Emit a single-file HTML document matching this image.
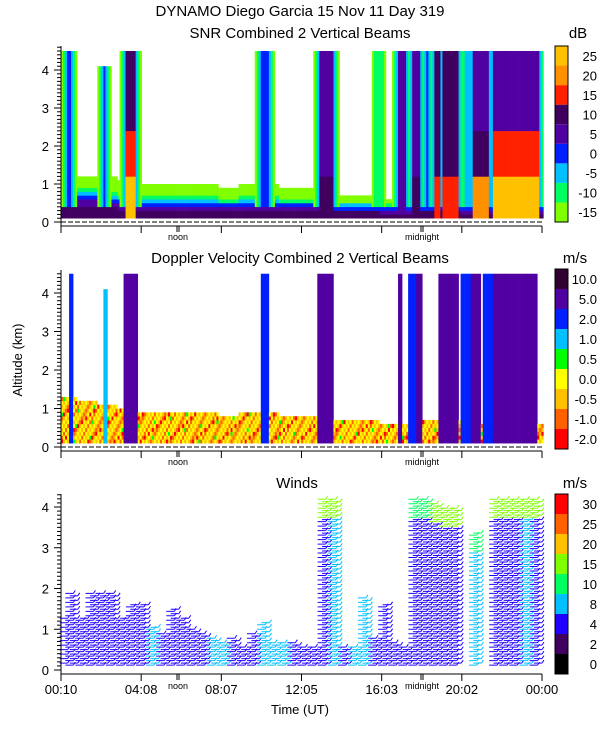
<!DOCTYPE html>
<html><head><meta charset="utf-8">
<style>
html,body{margin:0;padding:0;background:#fff;}
svg{display:block;font-family:"Liberation Sans",sans-serif;}
</style></head>
<body>
<svg id="chart" width="600" height="750" viewBox="0 0 600 750" xmlns="http://www.w3.org/2000/svg">
<text x="300" y="16" text-anchor="middle" font-size="15">DYNAMO Diego Garcia  15 Nov 11 Day 319</text>
<text x="300" y="38" text-anchor="middle" font-size="15">SNR Combined 2 Vertical Beams</text>
<text x="578" y="38" text-anchor="middle" font-size="15">dB</text>
<text x="300" y="263" text-anchor="middle" font-size="15">Doppler Velocity Combined 2 Vertical Beams</text>
<text x="575" y="263" text-anchor="middle" font-size="15">m/s</text>
<text x="297" y="488" text-anchor="middle" font-size="15">Winds</text>
<text x="575" y="488" text-anchor="middle" font-size="15">m/s</text>
<text x="22" y="360" text-anchor="middle" font-size="13" transform="rotate(-90 22 360)">Altitude (km)</text>
<text x="300" y="714" text-anchor="middle" font-size="13">Time (UT)</text>
<g id="layers"></g>
</svg>
<script>
// ---- SNR data ----
const blTop = [1.3,1.2,1.1,1.0,0.9,0.9,0.9,0.9,0.8,0.9,0.9,0.8,0.8,0.7,0.7,0.7,0.6,0.6,0.7,0.7,0.6,0.6,0.6,0.6];
const colStart = [0.5,2.25,3.35,10.1,12.95,15.85,16.85,17.55,18.25,18.65,19.1,20.25,20.6,21.55];
const colEnd   = [0.7,2.4,3.85,10.45,13.65,15.95,17.25,18.0,18.4,19.0,19.85,20.4,21.35,23.85];
const colTop   = [4.5,4.1,4.5,4.5,4.5,4.5,4.5,4.5,4.5,4.5,4.5,4.5,4.5,4.5];
const colCore  = [3,3,5,3,4,1,4,4,3,5,5,2,4,4];
const colLow   = [3,3,8,3,5,1,4,5,3,6,6,2,7,8];
// ---- Doppler data ----
const dopStart = [0.55,2.25,3.25,10.1,12.9,16.85,17.35,17.8,18.9,20.0,20.5,21.1,21.6];
const dopEnd   = [0.75,2.45,3.95,10.5,13.7,17.1,17.8,18.1,19.9,20.5,21.0,21.6,23.8];
const dopTopC  = [4.5,4.1,4.5,4.5,4.5,4.5,4.5,4.5,4.5,4.5,4.5,4.5,4.5];
const dopLevel = [6,5,7,6,7,7,6,7,7,6,7,6,7];
// ---- Winds data (half-hour bins) ----
const windTop = [1.3,1.9,1.3,1.9,1.9,1.9,1.3,1.6,1.6,1.1,0.9,1.5,1.3,1.0,0.9,0.8,0.7,0.8,0.6,0.9,1.2,0.7,0.7,0.7,0.6,0.6,4.2,4.2,0.6,0.6,1.8,0.8,1.6,0.7,0.6,4.2,4.2,4.1,4.0,4.0,0,3.4,0,4.2,4.2,4.2,4.2,4.2];
const windLow = [2,2,2,2,2,2,2,2,2,3,2,2,2,2,2,3,3,2,2,2,3,3,3,2,2,2,2,3,2,3,3,2,2,2,2,2,2,2,2,2,2,3,2,2,2,2,3,2];
const windHigh = [4,4,4,3,2,4,3,3,2,2,2,2,2,2,2,2,2,2,2,2,2,2,2,2,2,2,5,5,2,2,3,2,2,2,2,4,4,5,5,5,2,4,2,5,5,5,5,5];
const timeTicks = ["00:10","04:08","08:07","12:05","16:03","20:02","00:00"];
const snrLabels = ["-15","-10","-5","0","5","10","15","20","25"];
const dopLabels = ["-2.0","-1.0","-0.5","0.0","0.5","1.0","2.0","5.0","10.0"];
const windLabels = ["0","2","4","8","10","15","20","25","30"];
const snrColors = ["#80ff00","#00ff60","#00c0ff","#0020ff","#5000a0","#400060","#ff2000","#ff9000","#ffc000"];
const dopColors = ["#ff0000","#ff6000","#ffc000","#ffff00","#00ff00","#00c0ff","#0020ff","#5000a0","#300030"];
const windColors = ["#000000","#400060","#2000ff","#00c0ff","#00ff60","#80ff00","#ffc000","#ff6000","#ff0000"];

const NS="http://www.w3.org/2000/svg";
const L=document.getElementById('layers');
function mk(t,a,p){const e=document.createElementNS(NS,t);for(const k in a)e.setAttribute(k,a[k]);(p||L).appendChild(e);return e;}
const X0=61,X1=542,T0=10/60,T1=24;
function xs(h){return X0+(h-T0)/(T1-T0)*(X1-X0);}
const panels=[{zero:222,k:38,top:46,axis:226,lab:"snr"},{zero:447,k:38.5,top:270,axis:451,lab:"doppler"},{zero:670,k:40.75,top:494,axis:674,lab:"winds"}];
function ys(p,z){return p.zero-z*p.k;}

function snrLevel(t,z){
  let best=-1;
  for(let c=0;c<colStart.length;c++){
    if(z>=colTop[c])continue;
    if(t>=colStart[c]&&t<colEnd[c]){
      const lv=z<1.2?colLow[c]:z<2.4?Math.max(colCore[c],colLow[c]-2):colCore[c];
      best=Math.max(best,lv);
    } else {
      const d=t<colStart[c]?colStart[c]-t:t-colEnd[c];
      if(d<0.3){best=Math.max(best,Math.min(colCore[c],d<0.1?2:d<0.2?1:0));}
    }
  }
  const top=blTop[Math.min(23,Math.floor(t))];
  if(z<top){
    const f=z/top;
    const lv=f<0.3?5:f<0.42?4:f<0.52?3:f<0.6?2:f<0.68?1:0;
    if(best<0||z<0.35)best=Math.max(best,lv);
  }
  return best;
}
function dopLev(t,z){
  for(let c=0;c<dopStart.length;c++){
    if(t>=dopStart[c]&&t<dopEnd[c]&&z<dopTopC[c])return dopLevel[c];
  }
  const top=blTop[Math.min(23,Math.floor(t))]*0.95;
  if(z>=top)return -1;
  const n=Math.round(z*10)*7+Math.round(t*10)*3;
  return (n%13==0)?0:(n%31==0)?4:(n%5==0)?1:(n%2==0)?2:3;
}
function heat(fn,p,colors,name,cellName){
  const g=mk('g',{});
  
  
  const dt=0.1;
  for(let t=T0;t<T1-0.001;t+=dt){
    let runStart=null,runLv=null;
    const flush=(zEnd)=>{
      if(runLv!==null&&runLv>=0){
        const r=mk('rect',{x:xs(t),y:ys(p,zEnd),width:xs(t+dt)-xs(t)+0.3,height:(zEnd-runStart)*p.k+0.3,fill:colors[runLv]},g);
        
        
      }
    };
    for(let z=0.1;z<4.55;z+=0.1){
      const lv=fn(t+dt/2,z);
      if(lv!==runLv){flush(z);runStart=z;runLv=lv;}
    }
    flush(4.55);
  }
}
heat(snrLevel,panels[0],snrColors,'snr-heatmap','snr-cell');
heat(dopLev,panels[1],dopColors,'doppler-heatmap','doppler-cell');

// Wind barbs
const gW=mk('g',{});


for(let i=0;i<48;i++){
  const top=windTop[i];
  for(let s=0;s<2;s++){
    const t=i*0.5+0.08+s*0.22; if(t<T0)continue;
    for(let z=0.12+s*0.05;z<=top+0.001;z+=0.11){
      const lv=(top>3&&z>top-0.5)?windHigh[i]:windLow[i];
      const x=xs(t),y=ys(panels[2],z);
      const b=mk('path',{d:`M${x-4} ${y}L${x+4} ${y}M${x+4} ${y}L${x+6} ${y-3}`,stroke:windColors[lv],'stroke-width':1,fill:'none'},gW);
      
      
    }
  }
}
// axes
panels.forEach((p,pi)=>{
  const g=mk('g',{});
  
  
  mk('line',{x1:X0,y1:p.top,x2:X0,y2:p.axis,stroke:'#000'},g);
  const maxz=(p.zero-p.top)/p.k;
  for(let z=0;z<=maxz+0.001;z+=0.1){
    const major=Math.abs(z-Math.round(z))<0.01;
    mk('line',{x1:X0-(major?7:4),y1:ys(p,z),x2:X0,y2:ys(p,z),stroke:'#000'},g);
    if(major){const t=mk('text',{x:X0-12,y:ys(p,z)+5,'text-anchor':'end','font-size':13},g);t.textContent=Math.round(z);}
  }
  mk('line',{x1:X0,y1:p.axis,x2:X1,y2:p.axis,stroke:'#000'},g);
  if(pi<2)mk('line',{x1:X0,y1:p.zero,x2:X1,y2:p.zero,stroke:'#000','stroke-dasharray':'5 2'},g);
  timeTicks.forEach((lab,j)=>{
    const x=X0+j*(X1-X0)/6;
    mk('line',{x1:x,y1:p.axis,x2:x,y2:p.axis+7,stroke:'#000'},g);
    if(pi==2){const t=mk('text',{x:x,y:p.axis+20,'text-anchor':'middle','font-size':13},g);t.textContent=lab;}
  });
  [[177,'noon'],[421,'midnight']].forEach(([x,s])=>{
    mk('line',{x1:x,y1:p.axis,x2:x,y2:p.axis+6,stroke:'#000'},g);
    mk('line',{x1:x+2,y1:p.axis,x2:x+2,y2:p.axis+6,stroke:'#000'},g);
    const t=mk('text',{x:x+1,y:p.axis+(pi==2?15:14),'text-anchor':'middle','font-size':9},g);t.textContent=s;
  });
});
// colorbars
function cbar(y0,y1,cols,labs,name){
  const g=mk('g',{});
  
  
  const h=(y1-y0)/cols.length;
  cols.forEach((c,i)=>{
    mk('rect',{x:555,y:y1-(i+1)*h,width:13,height:h,fill:c},g);
    const t=mk('text',{x:597,y:y1-i*h-h/2+5,'text-anchor':'end','font-size':13},g);t.textContent=labs[i];
  });
  mk('rect',{x:555,y:y0,width:13,height:y1-y0,fill:'none',stroke:'#000'},g);
}
cbar(46,222,snrColors,snrLabels,'snr-colorbar');
cbar(269,449,dopColors,dopLabels,'doppler-colorbar');
cbar(494,674,windColors,windLabels,'winds-colorbar');
</script>
</body></html>
